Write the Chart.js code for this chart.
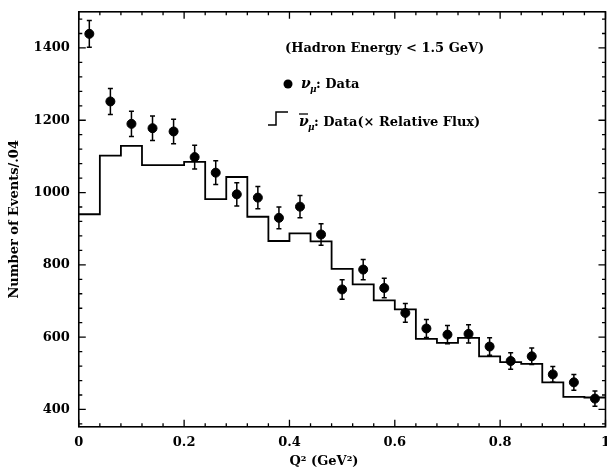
<!DOCTYPE html>
<html>
<head>
<meta charset="utf-8">
<script src="https://cdn.jsdelivr.net/npm/chart.js@4"></script>
<style>
    html, body { margin: 0; padding: 0; background: #fff; overflow: hidden; }
    #wrap { width: 607px; height: 469px; overflow: hidden; }
    #box { position: relative; top: -5px; width: 618px; height: 474px; }
</style>
</head>
<body>
<div id="wrap"><div id="box"><canvas id="chart"></canvas></div></div>
<script>
// Q^2 bin centres (GeV^2), bins are .04 wide
const q2 = [0.02, 0.06, 0.10, 0.14, 0.18, 0.22, 0.26, 0.30, 0.34, 0.38,
            0.42, 0.46, 0.50, 0.54, 0.58, 0.62, 0.66, 0.70, 0.74, 0.78,
            0.82, 0.86, 0.90, 0.94, 0.98];
const binWidth = 0.04;

// nu_mu data points and their errors
const nuData = [1439, 1252, 1190, 1178, 1169, 1098, 1055, 995, 986, 930,
                961, 884, 732, 787, 736, 667, 624, 607, 609, 574,
                534, 547, 497, 475, 430];
const nuErr = [37, 36, 35, 34, 34, 33, 33, 32, 31, 30,
               31, 30, 27, 28, 27, 26, 25, 25, 25, 24,
               23, 23, 22, 22, 21];

// anti-nu_mu data (x relative flux), histogram
const nubarHist = [940, 1102, 1129, 1076, 1076, 1085, 982, 1043, 933, 866,
                   887, 865, 789, 746, 702, 677, 595, 584, 598, 547,
                   531, 526, 475, 435, 433];

const xTicks = [0, 0.2, 0.4, 0.6, 0.8, 1];
const yTicks = [400, 600, 800, 1000, 1200, 1400];

const FONT = '"DejaVu Serif", serif';

// histogram as steps: each bin value held up to its right edge
const histPoints = [{ x: q2[0] - binWidth / 2, y: nubarHist[0] }];
q2.forEach((c, i) => histPoints.push({ x: c + binWidth / 2, y: nubarHist[i] }));

// Error bars
const errorBars = {
    id: 'errorBars',
    afterDatasetsDraw(chart) {
        const ctx = chart.ctx;
        const xs = chart.scales.x, ys = chart.scales.y;
        ctx.save();
        ctx.strokeStyle = '#000';
        ctx.lineWidth = 1.5;
        q2.forEach((q, i) => {
            const px = xs.getPixelForValue(q);
            const top = ys.getPixelForValue(nuData[i] + nuErr[i]);
            const bot = ys.getPixelForValue(nuData[i] - nuErr[i]);
            ctx.beginPath();
            ctx.moveTo(px, top); ctx.lineTo(px, bot);
            ctx.moveTo(px - 2.5, top); ctx.lineTo(px + 2.5, top);
            ctx.moveTo(px - 2.5, bot); ctx.lineTo(px + 2.5, bot);
            ctx.stroke();
        });
        ctx.restore();
    }
};

// Frame with inward ticks on all four sides
const frameTicks = {
    id: 'frameTicks',
    afterDraw(chart) {
        const ctx = chart.ctx;
        const a = chart.chartArea;
        const xs = chart.scales.x, ys = chart.scales.y;
        ctx.save();
        ctx.strokeStyle = '#000';
        ctx.lineWidth = 1.6;
        ctx.strokeRect(a.left, a.top, a.right - a.left, a.bottom - a.top);
        ctx.lineWidth = 1.3;
        ctx.beginPath();
        for (let k = 0; k <= 25; k++) {
            const v = k * binWidth;
            const px = xs.getPixelForValue(v);
            const len = (k % 5 === 0) ? 7 : 3.5;
            ctx.moveTo(px, a.bottom); ctx.lineTo(px, a.bottom - len);
            ctx.moveTo(px, a.top); ctx.lineTo(px, a.top + len);
        }
        for (let v = 360; v <= 1500; v += 40) {
            const py = ys.getPixelForValue(v);
            const len = (v % 200 === 0) ? 7 : 3.5;
            ctx.moveTo(a.left, py); ctx.lineTo(a.left + len, py);
            ctx.moveTo(a.right, py); ctx.lineTo(a.right - len, py);
        }
        ctx.stroke();
        ctx.restore();
    }
};

// Legend text in the upper right (canvas is shifted up 5px)
const legendText = {
    id: 'legendText',
    afterDraw(chart) {
        const ctx = chart.ctx;
        ctx.save();
        ctx.translate(0, 5);
        ctx.fillStyle = '#000';
        ctx.strokeStyle = '#000';
        ctx.textBaseline = 'alphabetic';
        ctx.font = 'bold 13px ' + FONT;
        ctx.fillText('(Hadron Energy < 1.5 GeV)', 285, 52);

        // nu_mu: Data
        ctx.beginPath();
        ctx.arc(288, 84, 4.5, 0, Math.PI * 2);
        ctx.fill();
        ctx.font = 'bold italic 14px ' + FONT;
        ctx.fillText('\u03bd', 301, 88);
        ctx.font = 'bold italic 9px ' + FONT;
        ctx.fillText('\u03bc', 310, 92);
        ctx.font = 'bold 13px ' + FONT;
        ctx.fillText(': Data', 316, 88);

        // nubar_mu: Data(x Relative Flux)
        ctx.lineWidth = 1.5;
        ctx.beginPath();
        ctx.moveTo(268, 125); ctx.lineTo(276, 125);
        ctx.lineTo(276, 112); ctx.lineTo(288, 112);
        ctx.stroke();
        ctx.font = 'bold italic 14px ' + FONT;
        ctx.fillText('\u03bd', 299, 126);
        ctx.lineWidth = 1.3;
        ctx.beginPath();
        ctx.moveTo(299, 114); ctx.lineTo(308, 114);
        ctx.stroke();
        ctx.font = 'bold italic 9px ' + FONT;
        ctx.fillText('\u03bc', 308, 130);
        ctx.font = 'bold 13px ' + FONT;
        ctx.fillText(': Data(\u00d7 Relative Flux)', 314, 126);
        ctx.restore();
    }
};

new Chart(document.getElementById('chart'), {
    type: 'scatter',
    data: {
        datasets: [
            {
                label: '\u03bd\u03bc: Data',
                data: q2.map((x, i) => ({ x: x, y: nuData[i] })),
                pointRadius: 4.5,
                pointBackgroundColor: '#000',
                pointBorderColor: '#000',
                showLine: false
            },
            {
                label: 'anti-\u03bd\u03bc: Data(\u00d7 Relative Flux)',
                data: histPoints,
                type: 'line',
                stepped: 'after',
                borderColor: '#000',
                borderWidth: 1.8,
                pointRadius: 0,
                fill: false
            }
        ]
    },
    options: {
        responsive: true,
        maintainAspectRatio: false,
        animation: false,
        layout: { padding: { top: 0, left: 7, right: 0, bottom: 0 } },
        plugins: {
            legend: { display: false },
            tooltip: { enabled: false }
        },
        scales: {
            x: {
                type: 'linear',
                min: 0,
                max: 1,
                afterBuildTicks: s => { s.ticks = xTicks.map(v => ({ value: v })); },
                grid: { display: false, drawTicks: false },
                border: { display: false },
                ticks: {
                    color: '#000',
                    padding: 8,
                    maxRotation: 0,
                    font: { family: FONT, size: 13, weight: 'bold' },
                    callback: v => String(v)
                },
                title: {
                    display: true,
                    text: 'Q\u00b2 (GeV\u00b2)        ',
                    color: '#000',
                    padding: { top: -5, bottom: 0 },
                    font: { family: FONT, size: 13, weight: 'bold' }
                }
            },
            y: {
                min: 352,
                max: 1500,
                afterBuildTicks: s => { s.ticks = yTicks.map(v => ({ value: v })); },
                grid: { display: false, drawTicks: false },
                border: { display: false },
                ticks: {
                    color: '#000',
                    padding: 9,
                    font: { family: FONT, size: 13, weight: 'bold' },
                    callback: v => String(v)
                },
                title: {
                    display: true,
                    text: 'Number of Events/.04',
                    color: '#000',
                    padding: { top: 0, bottom: 2 },
                    font: { family: FONT, size: 13, weight: 'bold' }
                }
            }
        }
    },
    plugins: [errorBars, frameTicks, legendText]
});
</script>
</body>
</html>
